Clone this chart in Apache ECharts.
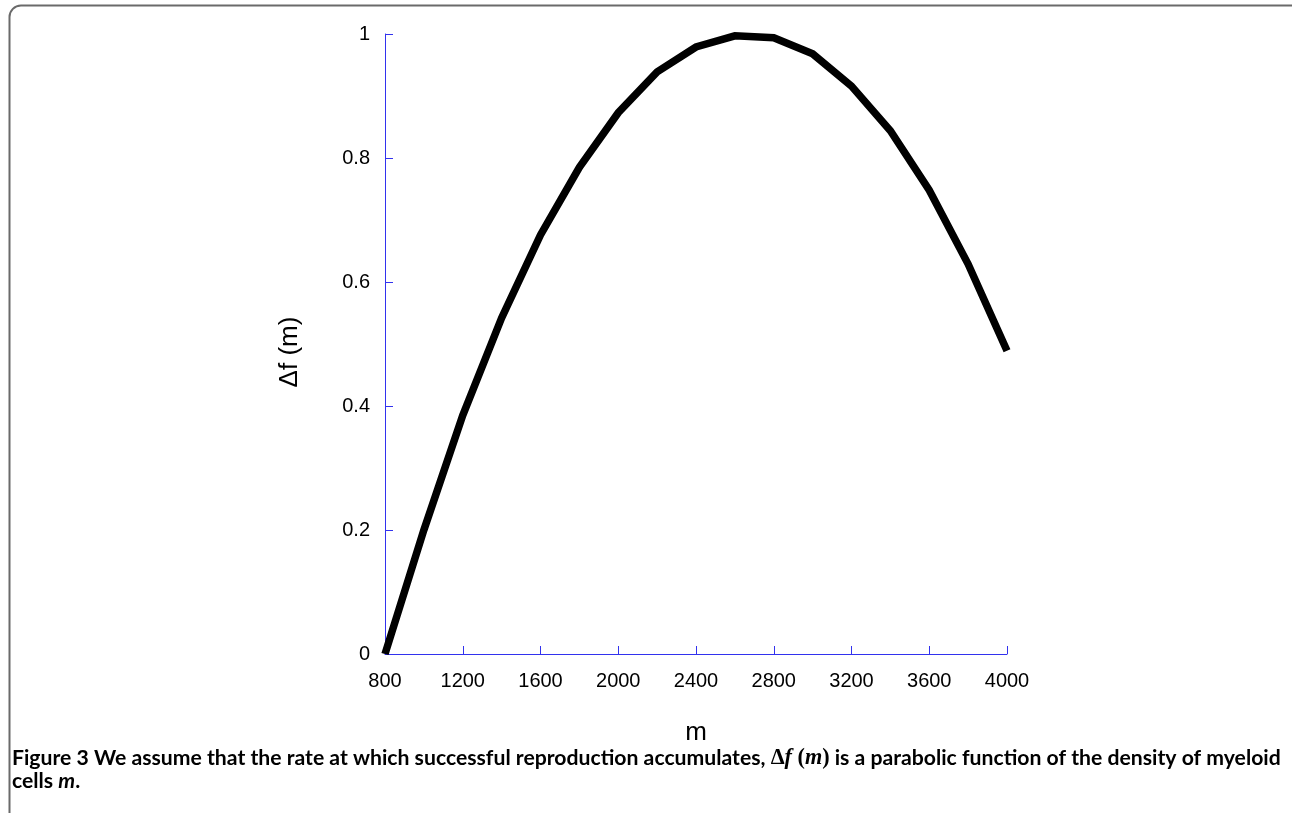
<!DOCTYPE html>
<html>
<head>
<meta charset="utf-8">
<script src="https://cdn.jsdelivr.net/npm/echarts@6/dist/echarts.min.js"></script>
<style>
html,body{margin:0;padding:0;background:#fff;}
#chart{width:1292px;height:813px;}
</style>
</head>
<body>
<div id="chart"></div>
<script>
// Data
var mValues = [800, 1000, 1200, 1400, 1600, 1800, 2000, 2200, 2400, 2600, 2800, 3000, 3200, 3400, 3600, 3800, 4000];
var dfValues = [0, 0.2, 0.385, 0.542, 0.676, 0.785, 0.873, 0.939, 0.979, 0.997, 0.994, 0.968, 0.916, 0.844, 0.748, 0.629, 0.489];
var xAxisName = 'm';
var yAxisName = 'Δf (m)';
var captionLine1 = ['Figure 3', ' We assume that the rate at which successful reproduction accumulates, ', 'Δ', 'f', ' (', 'm', ')', ' is a parabolic function of the density of myeloid'];
var captionLine2 = ['cells ', 'm', '.'];

var seriesData = mValues.map(function (m, i) { return [m, dfValues[i]]; });
var axisBlue = '#3232ee';
var capFont = 'Lato';
var capSize = 21.2;
var frameStyle = {stroke: '#6a6a6a', lineWidth: 2, fill: null};

var chart = echarts.init(document.getElementById('chart'), null, {renderer: 'canvas'});
chart.setOption({
  animation: false,
  backgroundColor: '#ffffff',
  grid: {left: 385, right: 285, top: 34, bottom: 159, containLabel: false},
  xAxis: {
    type: 'value', min: 800, max: 4000, interval: 400,
    name: xAxisName, nameLocation: 'middle', nameGap: 66,
    nameTextStyle: {fontFamily: 'Liberation Sans', fontSize: 26, color: '#000'},
    axisLine: {show: true, lineStyle: {color: axisBlue, width: 1}},
    axisTick: {show: true, inside: true, length: 8, lineStyle: {color: axisBlue, width: 1}},
    axisLabel: {margin: 17, fontFamily: 'Liberation Sans', fontSize: 20, color: '#000',
      formatter: function (v) { return String(v); }},
    splitLine: {show: false}
  },
  yAxis: {
    type: 'value', min: 0, max: 1, interval: 0.2,
    name: yAxisName, nameLocation: 'middle', nameGap: 82, nameRotate: 90,
    nameTextStyle: {fontFamily: 'Liberation Sans', fontSize: 26, color: '#000', padding: [0, 16, 0, 0]},
    axisLine: {show: true, lineStyle: {color: axisBlue, width: 1}},
    axisTick: {show: true, inside: true, length: 8, lineStyle: {color: axisBlue, width: 1}},
    axisLabel: {margin: 15, fontFamily: 'Liberation Sans', fontSize: 20, color: '#000',
      formatter: function (v) { return String(Math.round(v * 10) / 10); }},
    splitLine: {show: false}
  },
  series: [{
    type: 'line', data: seriesData, showSymbol: false, symbol: 'none',
    lineStyle: {color: '#000', width: 7.5, cap: 'butt', join: 'miter'},
    z: 1
  }],
  graphic: [
    {type: 'line', silent: true, shape: {x1: 21, y1: 5.5, x2: 1292, y2: 5.5}, style: frameStyle},
    {type: 'line', silent: true, shape: {x1: 9.5, y1: 17, x2: 9.5, y2: 813}, style: frameStyle},
    {type: 'arc', silent: true, shape: {cx: 21, cy: 17, r: 11.5, startAngle: Math.PI, endAngle: Math.PI * 1.5, clockwise: true}, style: frameStyle},
    {
      type: 'text', left: 12, top: 747,
      style: {
        rich: {
          b: {fontFamily: capFont, fontWeight: 'bold', fontSize: capSize, fill: '#000'},
          s: {fontFamily: 'Liberation Serif', fontWeight: 'bold', fontSize: capSize + 1, fill: '#000'},
          si: {fontFamily: 'Liberation Serif', fontWeight: 'bold', fontStyle: 'italic', fontSize: capSize + 1, fill: '#000'}
        },
        text: '{b|' + captionLine1[0] + '}{b|' + captionLine1[1] + '}{s|' + captionLine1[2] + '}{si|' + captionLine1[3] + '}{s|' + captionLine1[4] + '}{si|' + captionLine1[5] + '}{s|' + captionLine1[6] + '}{b|' + captionLine1[7] + '}'
      }
    },
    {
      type: 'text', left: 12, top: 771,
      style: {
        rich: {
          b: {fontFamily: capFont, fontWeight: 'bold', fontSize: capSize, fill: '#000'},
          bi: {fontFamily: capFont, fontWeight: 'bold', fontStyle: 'italic', fontSize: capSize, fill: '#000'}
        },
        text: '{b|' + captionLine2[0] + '}{bi|' + captionLine2[1] + '}{b|' + captionLine2[2] + '}'
      }
    }
  ]
});
</script>
</body>
</html>
